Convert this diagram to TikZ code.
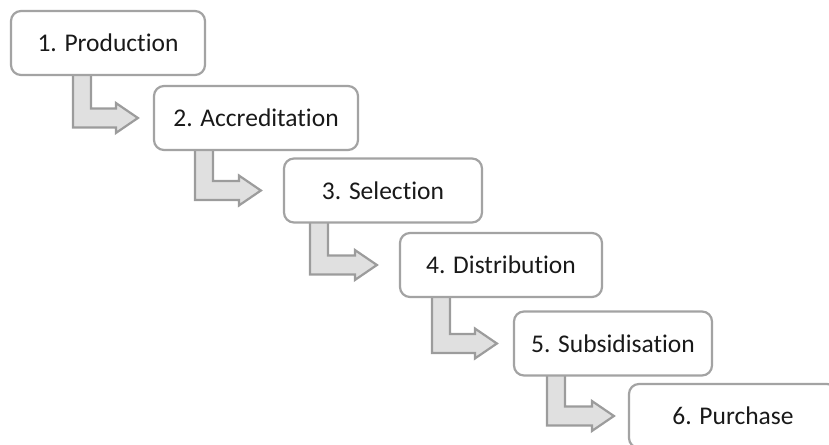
\documentclass[tikz,border=0pt]{standalone}
\usepackage{fontspec}
\setmainfont{Carlito}[RawFeature=-liga]
\usetikzlibrary{calc,backgrounds}
\definecolor{boxline}{HTML}{A3A3A3}
\definecolor{arrowfill}{HTML}{E0E0E0}
\definecolor{arrowline}{HTML}{9C9C9C}
\tikzset{
  stage/.style={draw=boxline, line width=2.2pt, fill=white, rounded corners=10pt,
    minimum height=64pt, inner sep=0pt, text=black!90,
    font=\fontsize{25.5}{30}\selectfont},
  turnarrow/.style={draw=arrowline, fill=arrowfill, line width=2.2pt, line join=miter}
}
% bent block arrow: from box, to box, left edge of the shaft, gap before the next box
\newcommand{\stageturn}[4]{%
  \draw[turnarrow] let \p1=(#1.south), \p2=(#2.west), \p3=($(#2.west)+(-#4,0)$) in
    (#3,\y1+3pt) -- (#3,\y2-9.5pt) -- (\x3-22pt,\y2-9.5pt) -- (\x3-22pt,\y2-15pt)
    -- (\x3,\y2) -- (\x3-22pt,\y2+15pt) -- (\x3-22pt,\y2+9.5pt)
    -- (#3+18pt,\y2+9.5pt) -- (#3+18pt,\y1+3pt) -- cycle;}
\begin{document}
\begin{tikzpicture}[x=1pt,y=1pt]
  \useasboundingbox (0,0) rectangle (829,444);
  \clip (0,0) rectangle (829,444);
  \node[stage, minimum width=194pt] (s1) at (108,401)   {1. Production};
  \node[stage, minimum width=204pt] (s2) at (256,326)   {2. Accreditation};
  \node[stage, minimum width=198pt] (s3) at (383,253.5) {3. Selection};
  \node[stage, minimum width=202pt] (s4) at (501,179)   {4. Distribution};
  \node[stage, minimum width=198pt] (s5) at (613,100.5) {5. Subsidisation};
  \node[stage, minimum width=208pt] (s6) at (733,28)    {6. Purchase};
  \begin{scope}[on background layer]
    \stageturn{s1}{s2}{73pt}{15pt}
    \stageturn{s2}{s3}{195pt}{22pt}
    \stageturn{s3}{s4}{310pt}{22pt}
    \stageturn{s4}{s5}{432pt}{16pt}
    \stageturn{s5}{s6}{547pt}{14pt}
  \end{scope}
\end{tikzpicture}
\end{document}
